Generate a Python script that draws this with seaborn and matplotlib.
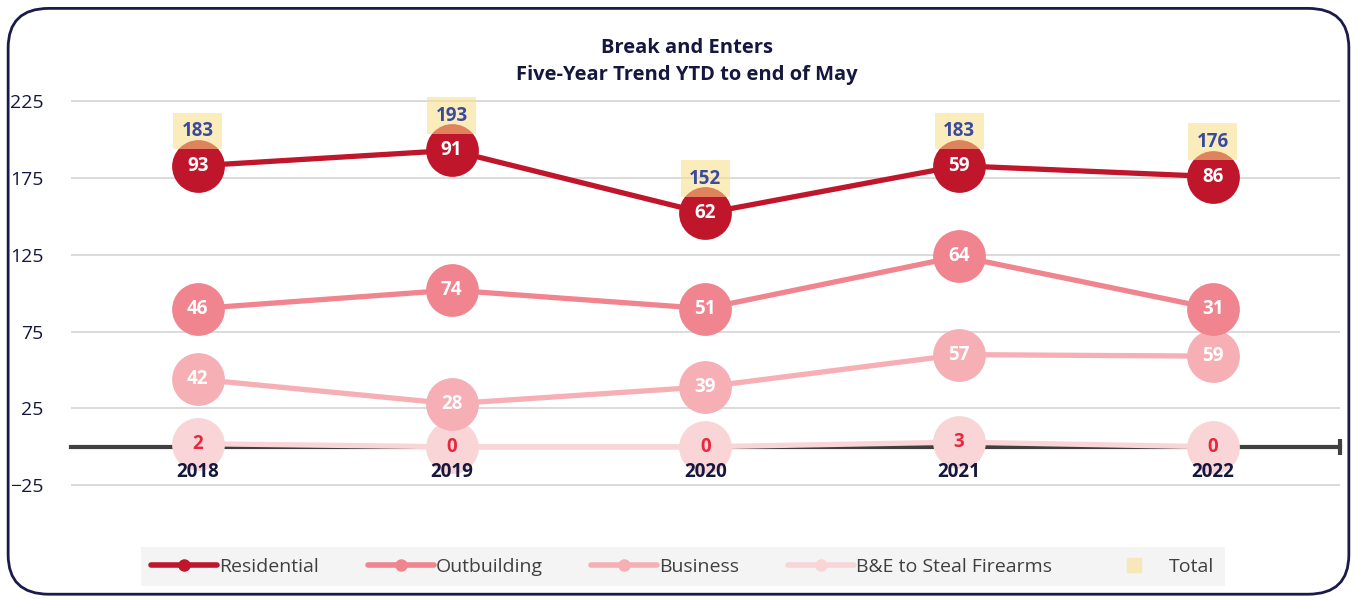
import matplotlib
matplotlib.use("Agg")
import matplotlib.pyplot as plt
from matplotlib.lines import Line2D
from matplotlib.patches import FancyBboxPatch
import numpy as np
import pandas as pd
import seaborn as sns

years = ["2018", "2019", "2020", "2021", "2022"]
# stacking order bottom -> top
series = ["B&E to Steal Firearms", "Business", "Outbuilding", "Residential"]
firearms = [2, 0, 0, 3, 0]
business = [42, 28, 39, 57, 59]
outbuilding = [46, 74, 51, 64, 31]
residential = [93, 91, 62, 59, 86]
totals = [183, 193, 152, 183, 176]

colors = {
    "Residential": "#C0162B",
    "Outbuilding": "#F0848F",
    "Business": "#F6AFB5",
    "B&E to Steal Firearms": "#F9D5D8",
}
label_colors = {
    "Residential": "white",
    "Outbuilding": "white",
    "Business": "white",
    "B&E to Steal Firearms": "#E8283C",
}
navy = "#15173F"

raw = np.array([firearms, business, outbuilding, residential])
cum = np.cumsum(raw, axis=0)

rows = []
for i, name in enumerate(series):
    for j, yr in enumerate(years):
        rows.append({"year": yr, "series": name, "value": raw[i, j], "pos": cum[i, j]})
df = pd.DataFrame(rows)

sns.set_style("white")
plt.rcParams["font.family"] = ["Open Sans", "DejaVu Sans"]

fig = plt.figure(figsize=(13.57, 5.99), dpi=100)
ax = fig.add_axes([0.0523, 0.126, 0.935, 0.769])

sns.lineplot(data=df, x="year", y="pos", hue="series", hue_order=series,
             palette=colors, marker="o", markersize=38, markeredgewidth=0,
             linewidth=3.8, legend=False, ax=ax, zorder=3)

for i, name in enumerate(series):
    for j in range(len(years)):
        ax.text(j, cum[i, j], str(raw[i, j]), ha="center", va="center",
                fontsize=13.5, fontweight="bold", color=label_colors[name], zorder=5)

for j, t in enumerate(totals):
    ax.annotate(str(t), (j, t), xytext=(0, 25), textcoords="offset points",
                ha="center", va="center", fontsize=13.5, fontweight="bold",
                color="#3A4A9F", zorder=6,
                bbox=dict(boxstyle="square,pad=0.45", facecolor="#F9DE85",
                          edgecolor="none", alpha=0.55))

for j, yr in enumerate(years):
    ax.annotate(yr, (j, 0), xytext=(0, -11), textcoords="offset points",
                ha="center", va="top", fontsize=13.5, fontweight="bold",
                color=navy, zorder=7)

ax.set_xlim(-0.5, 4.5)
ax.set_ylim(-50, 250)
ax.set_yticks([-25, 25, 75, 125, 175, 225])
ax.set_xticks([])
ax.yaxis.grid(True, color="#D4D4D4", linewidth=1.2)
ax.tick_params(axis="y", length=0, labelsize=14, labelcolor=navy, pad=20)
for s in ["left", "right", "top"]:
    ax.spines[s].set_visible(False)
ax.spines["bottom"].set_position(("data", 0))
ax.spines["bottom"].set_color("#404040")
ax.spines["bottom"].set_linewidth(3)
ax.spines["bottom"].set_zorder(2)
ax.plot([4.5], [0], marker="|", markersize=11, markeredgewidth=3,
        color="#404040", clip_on=False, zorder=2)
ax.set_xlabel("")
ax.set_ylabel("")

fig.text(0.506, 0.897, "Break and Enters\nFive-Year Trend YTD to end of May",
         ha="center", va="center", fontsize=14.5, fontweight="bold",
         color=navy, linespacing=1.5)

handles = []
for name in ["Residential", "Outbuilding", "Business", "B&E to Steal Firearms"]:
    handles.append(Line2D([], [], color=colors[name], linewidth=4, marker="o",
                          markersize=9, markeredgewidth=0, label=name))
handles.append(Line2D([], [], color="#F6E8B8", linestyle="none", marker="s",
                      markersize=10, label="Total"))
leg = fig.legend(handles=handles, loc="center", bbox_to_anchor=(0.503, 0.054),
                 ncol=5, frameon=True, fontsize=14, handlelength=3.4,
                 handletextpad=0.1, columnspacing=2.5, borderpad=0.55,
                 fancybox=False)
leg.get_frame().set_facecolor("#F2F2F2")
leg.get_frame().set_edgecolor("none")
for t in leg.get_texts():
    t.set_color("#404040")

border = FancyBboxPatch((0.006, 0.008), 0.988, 0.978,
                        boxstyle="round,pad=0,rounding_size=0.03",
                        transform=fig.transFigure, facecolor="none",
                        edgecolor="#1B1B4B", linewidth=2, mutation_aspect=2.2)
fig.patches.append(border)

fig.savefig("out.png", dpi=100)
